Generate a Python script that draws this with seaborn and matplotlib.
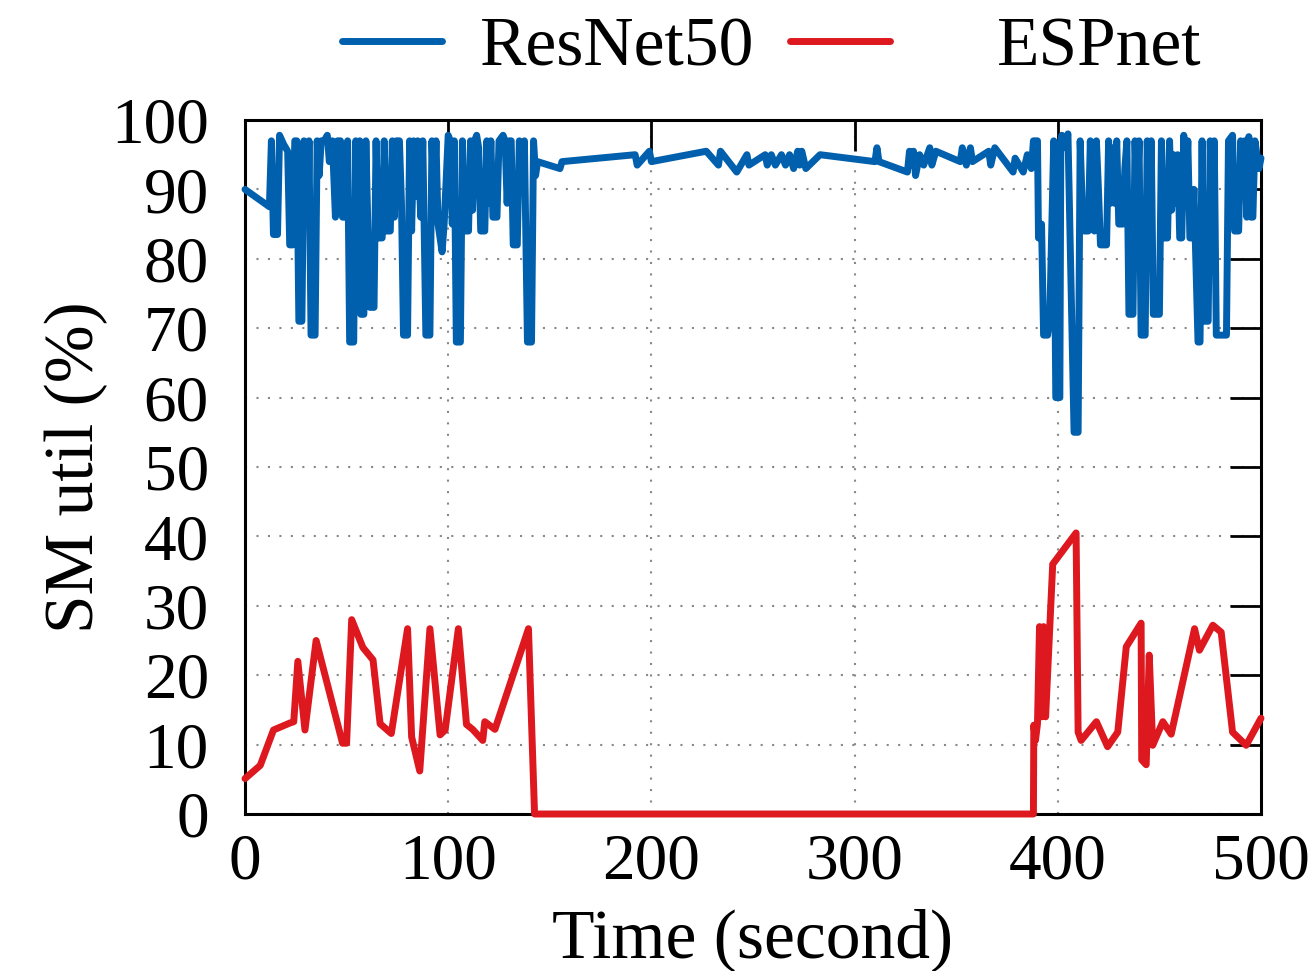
import numpy as np
import pandas as pd
import matplotlib
matplotlib.use("Agg")
import matplotlib.pyplot as plt
from matplotlib.lines import Line2D
import seaborn as sns

# SM utilisation traces over time (seconds, percent)
resnet_time = [0, 12, 13, 14, 16, 17, 19, 21, 22, 23.5, 24.5, 25.5, 26.5, 28, 29, 30, 31, 31.5, 32.5, 34.5,
               35.5, 36.5, 37.5, 39, 40.5, 41.5, 43, 44.5, 45.5, 47, 48, 49.5, 50.5, 51.5, 53.5, 54.5, 55.5, 56.5, 57, 58.5,
               59.5, 60.5, 61.5, 63.5, 64.5, 65.5, 67.5, 68.5, 69.5, 71.5, 72.5, 73.5, 74.5, 76, 77, 78, 80, 81, 82, 83,
               84, 85, 86.5, 87.5, 89, 91, 92, 93, 94, 95, 97, 98, 100, 101, 102, 103, 104, 106, 107, 108,
               110, 111, 112, 113, 114, 115, 116, 118, 119, 120, 121, 122, 124, 125, 127, 128, 129, 130, 131, 132,
               134, 135, 136.5, 137.5, 139, 141, 142, 143, 144,
               155, 156, 192, 193, 199, 200, 227, 233, 234, 242, 247, 248, 256, 257, 259, 261, 264, 266, 268, 270,
               272, 273, 274, 276, 283, 310, 311, 312, 326, 327, 328, 329, 330, 332, 334, 337, 338, 340, 352, 353,
               355, 357, 358, 366, 367, 369, 378, 379, 383, 385, 387,
               388, 390, 390.5, 392, 393, 395, 396, 398, 399, 401, 401.5, 402, 403, 405, 408, 410, 411, 412, 413, 415,
               416, 417, 418, 419, 420, 421, 424, 425, 426, 427, 428, 429, 430, 432, 433, 434, 435, 437, 438, 439,
               440, 441, 443, 444, 445, 446, 447, 450, 451, 452, 454, 455, 456, 457, 458, 459, 460, 461, 462, 463,
               464, 465, 466, 467, 469, 470, 471, 472, 474, 475, 476, 477, 478, 483, 484, 486, 487, 489, 490, 491,
               492, 493, 494, 495, 496, 497, 499, 500]
resnet_util = [90, 87.5, 97, 83.5, 83.5, 97.8, 96.5, 95.5, 82, 82, 97, 97, 71, 71, 97, 85, 85, 97, 69, 69,
               97, 92, 97, 97, 97.8, 94, 97, 86, 97, 97, 86, 86, 97, 68, 68, 97, 84, 97, 72, 72,
               97, 84, 73, 73, 97, 83, 83, 97, 84, 84, 97, 86, 97, 97, 88, 69, 69, 97, 84, 97,
               89, 97, 86, 97, 69, 69, 97, 88, 97, 85, 81, 85, 97.8, 97, 85, 97, 68, 68, 97, 84,
               84, 97, 87, 97, 97.8, 96, 84, 84, 97, 88, 97, 86, 86, 97, 97.8, 97, 88, 97, 97, 82,
               82, 97, 90, 97, 68, 68, 97, 92, 94,
               93, 94, 95, 93.5, 95.5, 94, 95.5, 93.5, 95.5, 92.5, 95, 93.5, 95, 93.5, 95, 93.5, 95, 93.5, 95, 93,
               95.5, 93.5, 95.5, 93, 95, 94, 96, 94, 92.5, 95.5, 93.5, 95.5, 92, 95, 93.5, 96, 93.5, 95.5, 94, 96,
               93.5, 96, 94, 95.5, 93.5, 96, 92.5, 94.5, 92.5, 95, 93,
               97, 97, 83, 85, 69, 69, 71, 97, 60, 60, 97, 97.8, 96, 98, 55, 55, 97, 88, 84, 84,
               97, 86, 84, 97, 90, 82, 82, 97, 88, 96, 88, 97, 85, 85, 93, 97, 72, 72, 97, 87,
               97, 69, 69, 97, 88, 97, 72, 72, 97, 83, 83, 97, 87, 95, 88, 95, 83, 83, 97.8, 90,
               97, 83, 83, 90, 68, 68, 97, 71, 71, 97, 86, 97, 69, 69, 97, 97.8, 84, 84, 97, 90,
               97, 86, 97.6, 86, 86, 97, 93, 94.5]

espnet_time = [0, 7.5, 14, 22, 24, 26, 29.5, 35, 48, 50, 52.5, 58, 63, 66.5, 72, 80, 82, 86, 91, 96,
               98.5, 105, 109, 112, 117, 118, 123, 139.5, 142.5, 388, 388.2, 389, 390, 391, 392, 393, 394, 397.5, 409, 410,
               411.5, 419, 424.5, 429.5, 433.7, 441, 441.3, 443.5, 445, 446.7, 451.7, 455.8, 467.3, 469.7, 476.3, 480.4, 486, 492.7, 500]
espnet_util = [5.1, 7, 12.1, 13.1, 13.3, 22, 12.1, 25, 10.2, 10.2, 28, 24, 22.2, 13, 11.6, 26.7, 11.1, 6.2, 26.7, 11.4,
               12.1, 26.7, 12.9, 12.2, 10.6, 13.3, 12.2, 26.7, 0, 0, 12.8, 10.6, 13, 27, 14, 27, 14, 36, 40.5, 11.8,
               10.6, 13.3, 9.7, 11.8, 24.1, 27.5, 7.8, 7.1, 22.9, 9.9, 13.3, 11.5, 26.7, 23.6, 27.2, 26.2, 11.8, 9.9, 13.8]

models = ["ResNet50", "ESPnet"]
colors = {"ResNet50": "#0060AD", "ESPnet": "#DD181F"}
x_ticks = [0, 100, 200, 300, 400, 500]
y_ticks = [0, 10, 20, 30, 40, 50, 60, 70, 80, 90, 100]

df = pd.concat([
    pd.DataFrame({"time": resnet_time, "util": resnet_util, "model": "ResNet50"}),
    pd.DataFrame({"time": espnet_time, "util": espnet_util, "model": "ESPnet"}),
], ignore_index=True)

sns.set_style("white")
plt.rcParams["font.family"] = ["Liberation Serif", "DejaVu Serif"]
plt.rcParams["text.color"] = "black"
plt.rcParams["axes.labelcolor"] = "black"
plt.rcParams["xtick.color"] = "black"
plt.rcParams["ytick.color"] = "black"

fig = plt.figure(figsize=(13.08, 9.71), dpi=100)
ax = fig.add_axes([245 / 1308, 1 - 814 / 971, (1261 - 245) / 1308, (814 - 120) / 971])

sns.lineplot(data=df, x="time", y="util", hue="model", hue_order=models,
             palette=colors, sort=False, estimator=None, linewidth=5.0,
             legend=False, ax=ax, zorder=3)
for ln in ax.lines:
    ln.set_clip_on(False)
    ln.set_solid_joinstyle("round")

ax.set_xlim(0, 500)
ax.set_ylim(0, 100)
ax.set_xticks(x_ticks)
ax.set_yticks(y_ticks)
ax.set_xticklabels([str(v) for v in x_ticks])
ax.set_yticklabels([str(v) for v in y_ticks])

ax.grid(True, color="#888888", linestyle=(0, (1, 4.5)), linewidth=1.5)
ax.set_axisbelow(True)

for s in ax.spines.values():
    s.set_visible(True)
    s.set_color("black")
    s.set_linewidth(2.2)

ax.tick_params(axis="both", which="major", direction="in", length=22.5, width=2.0,
               color="black", labelcolor="black", top=True, right=True, labelsize=47)
ax.tick_params(axis="x", pad=14)
ax.tick_params(axis="y", pad=26)

ax.set_xlabel("Time (second)", fontsize=50, color="black")
ax.set_ylabel("SM util (%)", fontsize=50, color="black")
ax.xaxis.set_label_coords(0.5, -0.135)
ax.yaxis.set_label_coords(-0.135, 0.5)

# key at the top: sample on the left, text right-justified within a common width
h1 = Line2D([], [], color=colors["ResNet50"], linewidth=5.0)
h2 = Line2D([], [], color=colors["ESPnet"], linewidth=5.0)
common = dict(frameon=False, fontsize=50, handlelength=1.44, borderpad=0,
              borderaxespad=0, loc="center left", labelcolor="black")
fig.legend([h1], ["ResNet50"], bbox_to_anchor=(342 / 1308, 1 - 49 / 971),
           handletextpad=0.55, **common)
fig.legend([h2], ["ESPnet"], bbox_to_anchor=(790 / 1308, 1 - 49 / 971),
           handletextpad=1.54, **common)

fig.savefig("out.png", dpi=100, facecolor="white")
